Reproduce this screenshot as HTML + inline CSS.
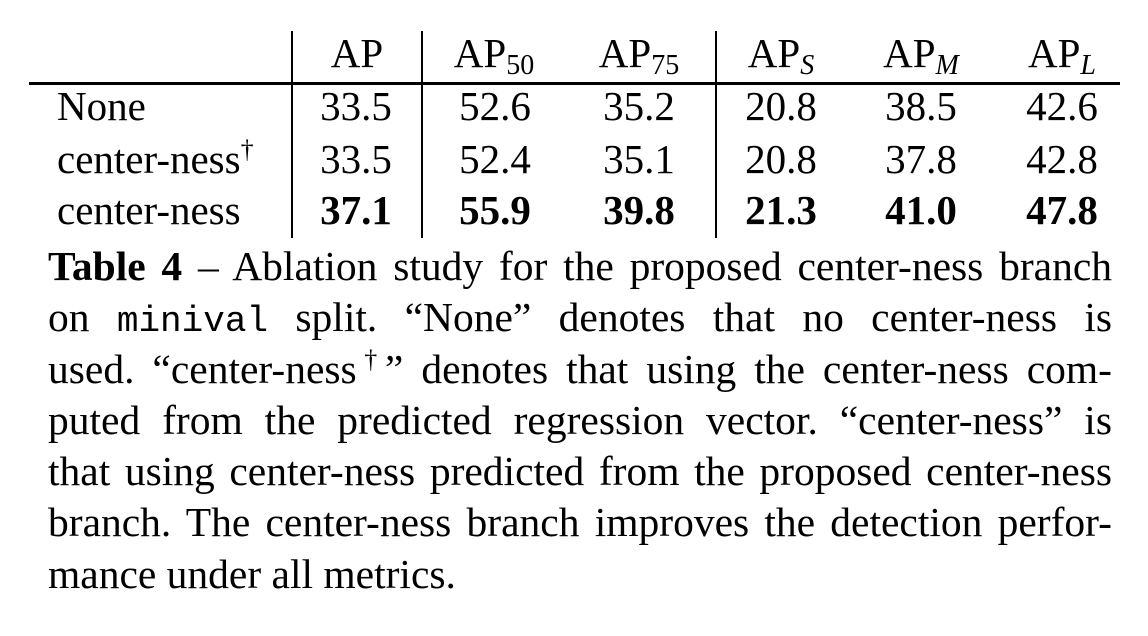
<!DOCTYPE html>
<html><head><meta charset="utf-8">
<style>
html,body{margin:0;padding:0;background:#fff;}
body{width:1148px;height:636px;position:relative;overflow:hidden;font-family:"Liberation Serif",serif;color:#000;}
.c{position:absolute;width:200px;text-align:center;font-size:41px;line-height:41px;white-space:nowrap;}
.l{position:absolute;font-size:41px;line-height:41px;white-space:nowrap;}
.b{font-weight:bold;}
sub{font-size:28px;vertical-align:-7px;line-height:0;}
sub.i{font-style:italic;}
.vl{position:absolute;width:2px;background:#000;top:31px;height:207px;}
#cap{position:absolute;left:48px;width:1064px;top:241px;font-size:41.5px;line-height:51.3px;}
#cap div{height:51.3px;text-align:justify;text-align-last:justify;white-space:nowrap;}
#cap div.last{text-align-last:left;}
.tt{font-family:"Liberation Mono",monospace;font-size:36px;}
sup{font-size:26px;line-height:0;vertical-align:baseline;position:relative;top:-15px;}
</style></head><body>
<div>
<div class="vl" style="left:291px"></div>
<div class="vl" style="left:421px"></div>
<div class="vl" style="left:715px"></div>
<div style="position:absolute;left:29px;width:1091px;top:82px;height:3px;background:#000"></div>

<div class="c" style="left:257px;top:33px">AP</div>
<div class="c" style="left:394px;top:33px">AP<sub>50</sub></div>
<div class="c" style="left:539px;top:33px">AP<sub>75</sub></div>
<div class="c" style="left:681px;top:33px">AP<sub class="i">S</sub></div>
<div class="c" style="left:821px;top:33px">AP<sub class="i">M</sub></div>
<div class="c" style="left:962px;top:33px">AP<sub class="i">L</sub></div>

<div class="l" style="left:57px;top:86px">None</div>
<div class="l" style="left:57px;top:139px">center-ness<sup>†</sup></div>
<div class="l" style="left:57px;top:190px">center-ness</div>

<div class="c" style="left:256px;top:86px">33.5</div>
<div class="c" style="left:395px;top:86px">52.6</div>
<div class="c" style="left:539px;top:86px">35.2</div>
<div class="c" style="left:681px;top:86px">20.8</div>
<div class="c" style="left:821px;top:86px">38.5</div>
<div class="c" style="left:962px;top:86px">42.6</div>

<div class="c" style="left:256px;top:139px">33.5</div>
<div class="c" style="left:395px;top:139px">52.4</div>
<div class="c" style="left:539px;top:139px">35.1</div>
<div class="c" style="left:681px;top:139px">20.8</div>
<div class="c" style="left:821px;top:139px">37.8</div>
<div class="c" style="left:962px;top:139px">42.8</div>

<div class="c b" style="left:256px;top:190px">37.1</div>
<div class="c b" style="left:395px;top:190px">55.9</div>
<div class="c b" style="left:539px;top:190px">39.8</div>
<div class="c b" style="left:681px;top:190px">21.3</div>
<div class="c b" style="left:821px;top:190px">41.0</div>
<div class="c b" style="left:962px;top:190px">47.8</div>
</div>

<div id="cap">
<div><b>Table 4</b> – Ablation study for the proposed center-ness branch</div>
<div>on <span class="tt">minival</span> split. “None” denotes that no center-ness is</div>
<div>used. “center-ness<sup>†</sup>” denotes that using the center-ness com-</div>
<div>puted from the predicted regression vector. “center-ness” is</div>
<div>that using center-ness predicted from the proposed center-ness</div>
<div>branch. The center-ness branch improves the detection perfor-</div>
<div class="last">mance under all metrics.</div>
</div>
</body></html>
